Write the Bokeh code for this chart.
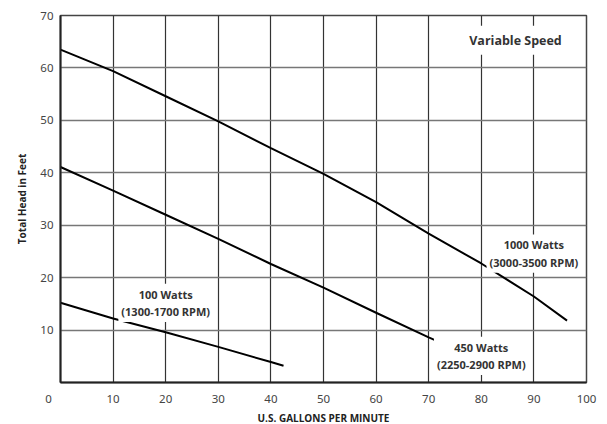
from bokeh.plotting import figure
from bokeh.models import Range1d, FixedTicker, Label, Title
from bokeh.embed import file_html
from bokeh.resources import INLINE

# Data
gpm_1000 = [0, 10, 20, 30, 40, 50, 60, 70, 80, 90, 96.3]
head_1000 = [63.5, 59.4, 54.6, 49.8, 44.7, 39.8, 34.4, 28.4, 22.7, 16.4, 11.8]

gpm_450 = [0, 10, 20, 30, 40, 50, 60, 70, 72.5]
head_450 = [41.1, 36.6, 32.0, 27.4, 22.6, 18.1, 13.3, 8.6, 7.5]

gpm_100 = [0, 10, 20, 30, 40, 42.4]
head_100 = [15.2, 12.2, 9.6, 6.8, 3.9, 3.2]

x_ticks = [0, 10, 20, 30, 40, 50, 60, 70, 80, 90, 100]
y_ticks = [10, 20, 30, 40, 50, 60, 70]

title_text = "Variable Speed"
x_title = "U.S. GALLONS PER MINUTE"
y_title = "Total Head in Feet"
curve_labels = [
    ("1000 Watts\n(3000-3500 RPM)", 90, 24.6),
    ("450 Watts\n(2250-2900 RPM)", 80, 5.1),
    ("100 Watts\n(1300-1700 RPM)", 20, 15.2),
]

FONT = "Open Sans"
TICK_FONT = "Noto Sans"

p = figure(width=607, height=424, output_backend="svg", toolbar_location=None,
           x_range=Range1d(0, 100), y_range=Range1d(0, 70),
           min_border_left=60, min_border_right=21, min_border_top=15, min_border_bottom=39)
p.background_fill_color = "white"
p.border_fill_color = "white"
p.outline_line_color = "#444444"
p.outline_line_width = 1.5

# grid
p.xgrid.ticker = FixedTicker(ticks=x_ticks[1:])
p.ygrid.ticker = FixedTicker(ticks=y_ticks)
p.xgrid.grid_line_color = "#333333"
p.xgrid.grid_line_width = 1.2
p.ygrid.grid_line_color = "#777777"
p.ygrid.grid_line_width = 1.5

# axes
for ax in (p.xaxis[0], p.yaxis[0]):
    ax.axis_line_color = "#222222"
    ax.axis_line_width = 2
    ax.major_tick_line_color = None
    ax.minor_tick_line_color = None
    ax.major_tick_out = 0
    ax.major_tick_in = 0
    ax.major_label_text_font = TICK_FONT
    ax.major_label_text_font_size = "11.5px"
    ax.major_label_text_color = "#444444"
    ax.axis_label_text_font = FONT
    ax.axis_label_text_font_size = "10px"
    ax.axis_label_text_font_style = "bold"
    ax.axis_label_text_color = "#222222"

p.xaxis.ticker = FixedTicker(ticks=x_ticks)
p.yaxis.ticker = FixedTicker(ticks=y_ticks)
# the corner "0" sits left of the origin in the reference
p.xaxis.major_label_overrides = {0: "0" + "\u00a0" * 8}
p.xaxis.major_label_standoff = 8
p.yaxis.major_label_standoff = 7
p.yaxis.axis_label = y_title
p.yaxis.axis_label_standoff = 8

# x axis title as a compact title panel below the axis
p.add_layout(Title(text=x_title, align="center", text_font=FONT, text_font_size="10px",
                   text_font_style="bold", text_color="#222222", standoff=0, offset=0),
             "below")

# curves
p.line(gpm_1000, head_1000, line_color="black", line_width=2)
p.line(gpm_450, head_450, line_color="black", line_width=2)
p.line(gpm_100, head_100, line_color="black", line_width=2)

# title box
p.add_layout(Label(x=86.5, y=65.3, text=title_text, text_font=FONT,
                   text_font_size="12.5px", text_font_style="bold", text_color="#333333",
                   text_align="center", text_baseline="middle",
                   background_fill_color="white", padding=6))

for txt, lx, ly in curve_labels:
    p.add_layout(Label(x=lx, y=ly, text=txt, text_font=FONT,
                       text_font_size="11px", text_font_style="bold", text_color="#333333",
                       text_align="center", text_baseline="middle", text_line_height=1.15,
                       background_fill_color="white", padding=3))

open("out.html", "w").write(file_html(p, INLINE))
